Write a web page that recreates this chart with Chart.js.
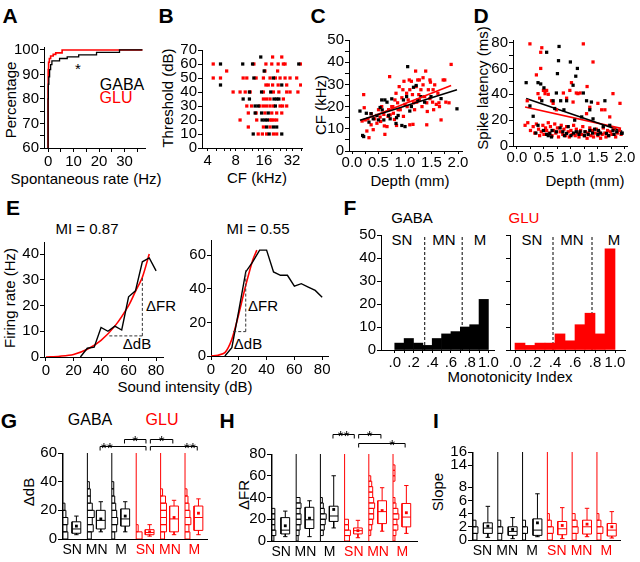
<!DOCTYPE html>
<html><head><meta charset="utf-8">
<script src="https://cdn.jsdelivr.net/npm/chart.js@4.4.1/dist/chart.umd.min.js"></script>
<style>
body{margin:0;background:#fff;width:640px;height:562px;position:relative;overflow:hidden;font-family:"Liberation Sans",Arial,sans-serif;color:#000}
canvas{position:absolute}
.t{position:absolute;white-space:nowrap;font-size:15px;line-height:1;transform:translate(-50%,-50%)}
.v{transform:translate(-50%,-50%) rotate(-90deg)}
.L{position:absolute;font-weight:bold;font-size:21px;line-height:1;transform:translate(-50%,-50%)}
.r{color:#f00}
.b{font-size:16px}
</style></head><body>
<div class="L" style="left:10px;top:15px">A</div>
<div class="L" style="left:166px;top:15px">B</div>
<div class="L" style="left:318px;top:15px">C</div>
<div class="L" style="left:481px;top:15px">D</div>
<div class="L" style="left:13px;top:207px">E</div>
<div class="L" style="left:350px;top:207px">F</div>
<div class="L" style="left:9px;top:420px">G</div>
<div class="L" style="left:227px;top:420px">H</div>
<div class="L" style="left:436px;top:420px">I</div>

<div class="t v" style="left:10px;top:100px">Percentage</div>
<div class="t" style="left:86px;top:178px">Spontaneous rate (Hz)</div>
<div class="t b" style="left:122px;top:85px">GABA</div>
<div class="t b r" style="left:116px;top:98px">GLU</div>
<div class="t" style="left:78px;top:68px">*</div>
<div class="t v" style="left:167px;top:98px">Threshold (dB)</div>
<div class="t" style="left:257px;top:177px">CF (kHz)</div>
<div class="t v" style="left:320px;top:105px">CF (kHz)</div>
<div class="t" style="left:410px;top:180px">Depth (mm)</div>
<div class="t v" style="left:482px;top:88px">Spike latency (ms)</div>
<div class="t" style="left:585px;top:180px">Depth (mm)</div>

<div class="t" style="left:87px;top:228px">MI = 0.87</div>
<div class="t" style="left:258px;top:228px">MI = 0.55</div>
<div class="t v" style="left:9px;top:298px">Firing rate (Hz)</div>
<div class="t" style="left:185px;top:386px">Sound intensity (dB)</div>
<div class="t" style="left:161px;top:305px">ΔFR</div>
<div class="t" style="left:137px;top:343px">ΔdB</div>
<div class="t" style="left:263px;top:305px">ΔFR</div>
<div class="t" style="left:248px;top:343px">ΔdB</div>

<div class="t" style="left:412px;top:217px">GABA</div>
<div class="t r" style="left:524px;top:217px">GLU</div>
<div class="t" style="left:402px;top:239px">SN</div>
<div class="t" style="left:444px;top:239px">MN</div>
<div class="t" style="left:480px;top:239px">M</div>
<div class="t" style="left:532px;top:239px">SN</div>
<div class="t" style="left:572px;top:239px">MN</div>
<div class="t" style="left:614px;top:239px">M</div>
<div class="t" style="left:510px;top:376px">Monotonicity Index</div>

<div class="t b" style="left:90px;top:420px">GABA</div>
<div class="t b r" style="left:162px;top:420px">GLU</div>
<div class="t v" style="left:28px;top:492px">ΔdB</div>
<div class="t v" style="left:243px;top:495px">ΔFR</div>
<div class="t v" style="left:437px;top:492px">Slope</div>

<script>
// ---- A: cumulative spontaneous rate
const rateGABA = [0, 0.1, 0.3, 0.6, 1, 1.5, 4.5, 7.5, 12, 19, 28, 33, 37];
const pctGABA  = [60, 80, 86, 89, 92, 94, 95.5, 96.5, 97.2, 98, 99, 100, 100];
const rateGLU  = [0, 0.05, 0.2, 0.5, 1, 2, 3, 5.5, 19, 37];
const pctGLU   = [60, 85, 92, 95, 96.5, 97.5, 98.2, 98.8, 100, 100];

// ---- B: threshold vs CF  [CF kHz, threshold dB]
const thrGABA = [[14.8,65],[5.5,60],[9.5,60],[12.1,60],[37.7,60],[16.1,55],[12.5,50],[20.2,50],[5.5,45],[24.8,45],
  [11.2,40],[15.1,40],[18.9,40],[9.6,35],[11.2,35],[20.5,35],[21.9,35],[23.1,35],[12.9,30],[13.9,30],[21.2,30],
  [12.9,25],[15.1,25],[17.8,25],[15.3,20],[16.4,20],[17.4,20],[17.1,15],[20.2,15],[21.9,15],[12.3,10],[18.2,10],[24.8,10]];
const thrGLU = [[19.8,65],[24.8,65],[4.6,60],[12.5,60],[16.8,60],[19.4,60],[22.7,60],[25.8,60],[26.9,60],[39.5,60],
  [6.4,55],[16.4,55],[22.4,55],[4.6,50],[5.5,50],[9.6,50],[10.5,50],[13.2,50],[15.8,50],[18.6,50],[21.2,50],[23.8,50],
  [26.9,50],[30.4,50],[35.8,50],[16.8,45],[17.8,45],[19.8,45],[22.7,45],[28,45],[39.5,45],[7.5,40],[8.9,40],[10.1,40],
  [11.4,40],[15.8,40],[20.2,40],[23.1,40],[28,40],[30.4,40],[36.9,40],[15.8,35],[17.1,35],[18.6,35],[25.8,35],
  [10.5,30],[11.8,30],[14.5,30],[15.8,30],[17.1,30],[18.6,30],[20.2,30],[23.8,30],[25.3,30],[28,30],
  [10.9,25],[13.2,25],[16.4,25],[19.4,25],[21.9,25],[24.8,25],[8.9,20],[13.4,20],[18.6,20],[19.4,20],[20.5,20],[21.9,20],
  [10.9,15],[15.8,15],[18.6,15],[13.9,10],[15.4,10],[17.1,10],[20.2,10],[21.9,10]];

// ---- C: CF vs depth  [depth mm, CF kHz]
const cfGABA = [[0.15,18],[0.2,7],[0.22,6.5],[0.27,17],[0.32,13],[0.36,16.8],[0.4,14.5],[0.47,16],[0.5,14],[0.53,19.6],
  [0.56,23],[0.57,18.5],[0.6,14],[0.62,23],[0.66,22],[0.69,16],[0.72,14.5],[0.75,23.5],[0.83,12.4],[0.84,15],[0.87,16],
  [0.94,11.5],[0.97,23],[1.0,11],[1.03,24.5],[1.05,38],[1.09,18],[1.12,20],[1.16,28.7],[1.21,29.5],[1.24,23],[1.3,24.5],
  [1.37,22],[1.49,24.5],[1.68,23.6],[1.98,19]];
const cfGLU = [[0.22,25.4],[0.23,19.5],[0.19,13.5],[0.25,14],[0.28,9],[0.32,6],[0.36,11.8],[0.4,9.6],[0.47,12.5],[0.5,18.6],
  [0.53,15.3],[0.56,20],[0.6,16.5],[0.62,7.5],[0.66,11],[0.69,18.6],[0.71,33.5],[0.75,20],[0.78,17],[0.81,23],[0.83,26],
  [0.86,21.7],[0.89,29],[0.91,18.6],[0.94,24],[0.96,27.6],[0.98,31.4],[1.0,21],[1.03,26],[1.06,23],[1.09,27.6],[1.12,31.4],
  [1.14,25.4],[1.15,12],[1.16,21.7],[1.2,36],[1.21,29],[1.24,32],[1.26,25.4],[1.27,23],[1.3,27.6],[1.32,20],[1.34,29.8],
  [1.37,24.5],[1.39,36],[1.41,21.7],[1.44,27.6],[1.47,23.6],[1.48,31],[1.52,22],[1.53,27.6],[1.56,29.8],[1.59,21],[1.62,26],
  [1.64,21.7],[1.68,14],[1.72,32],[1.75,32],[1.77,22],[1.83,21.7],[1.87,39],[1.41,11.8],[1.09,11.8],[1.27,32],[0.97,15.6],
  [0.43,14.5],[0.36,16.8],[0.3,14.5],[0.72,16.3],[0.77,20],[0.87,18.6],[1.04,20],[1.08,32],[1.18,18.6],[1.22,22],
  [1.42,17.8],[1.54,18.6],[1.65,20],[1.47,32],[1.34,33],[0.54,13.3],[0.61,11.3],[0.68,15.6],[0.8,14.2],[0.84,11.5]];

// ---- D: spike latency vs depth  [depth mm, latency ms]
const latGABA = [[0.17,49],[0.24,31],[0.3,23],[0.39,49],[0.44,48],[0.46,35],[0.5,45],[0.55,72.5],[0.61,9.7],[0.64,7],
  [0.67,35],[0.7,29],[0.73,41],[0.75,56],[0.77,66],[0.78,77],[0.81,35],[0.85,11],[0.87,28],[0.92,35],[0.95,15],[0.99,65],
  [1.04,47],[1.07,20],[1.09,54],[1.12,60],[1.17,11],[1.2,22.5],[1.23,41],[1.26,11],[1.29,35],[1.35,28],[1.38,34],[1.41,21],
  [1.44,13],[1.51,12],[1.6,15],[1.63,35],[1.66,9.7],[1.72,16],[1.78,12],[1.94,9.7],[0.39,16],[0.49,12],[0.58,8],[0.73,11],
  [0.92,9.7],[1.1,11],[0.35,10],[0.8,14],[1.0,8],[1.32,9],[1.15,9],[1.25,8],[1.4,10],[1.5,9],[1.7,8],[1.85,11],[1.95,10],
  [0.65,12],[0.55,9],[1.05,10],[1.35,12],[1.55,10],[1.8,9],[0.88,8]];
const latGLU = [[0.24,79],[0.44,60],[0.46,76],[0.44,72.5],[0.36,55],[0.39,40.5],[0.42,37],[0.49,43],[0.52,40.5],[0.55,43],
  [0.58,40],[0.64,35],[0.67,33],[0.73,28],[0.86,41],[0.92,37],[0.98,43],[1.01,49],[1.04,34],[1.1,41],[1.13,40.5],[1.17,41],
  [1.23,79],[1.3,46],[1.29,25],[1.35,30],[1.41,65],[1.5,33],[1.57,28],[1.63,28],[1.72,22.5],[1.78,40.5],[1.91,33],[0.15,16],
  [0.19,35],[0.2,18],[0.25,12],[0.3,15],[0.33,10],[0.36,17],[0.4,13],[0.42,8],[0.45,11],[0.48,16],[0.5,9],[0.53,14],[0.55,12],
  [0.58,18],[0.6,10],[0.62,15],[0.65,8],[0.68,12],[0.7,17],[0.72,10],[0.75,14],[0.77,7],[0.8,11],[0.82,16],[0.85,9],[0.87,13],
  [0.9,8],[0.92,15],[0.95,11],[0.97,7],[1.0,12],[1.02,9],[1.05,16],[1.08,8],[1.1,13],[1.12,10],[1.15,7],[1.18,12],[1.2,9],
  [1.22,15],[1.25,8],[1.27,11],[1.3,6],[1.32,10],[1.35,14],[1.37,8],[1.4,12],[1.42,7],[1.45,10],[1.47,13],[1.5,8],[1.52,11],
  [1.55,6],[1.58,9],[1.6,14],[1.63,10],[1.65,7],[1.68,12],[1.7,8],[1.73,11],[1.76,9],[1.8,13],[1.83,7],[1.86,10],[1.9,12],[1.93,9]];

// ---- E: rate-level functions
const e1Int = [25, 30, 35, 40, 45, 50, 55, 60, 65, 70, 75, 80];
const e1Rate = [0, 3.4, 3.8, 11.5, 10, 12, 10.5, 23.4, 25.7, 37, 38.5, 33.5];
const e1FitInt = [0, 10, 20, 30, 40, 50, 60, 65, 70, 75];
const e1FitRate = [0, 0.3, 1, 3, 6.5, 12, 20, 25.5, 31, 40];
const e1dB = [46, 70], e1FR = [8.2, 30.7];
const e2Int = [10, 15, 20, 25, 30, 35, 40, 45, 50, 55, 60, 65, 70, 75, 80];
const e2Rate = [0, 5, 27, 50, 56, 63, 63, 50, 48, 48, 41.5, 43, 41, 39, 35];
const e2FitInt = [0, 5, 10, 15, 20, 25, 30, 33];
const e2FitRate = [0, 0.5, 2, 10, 25, 42, 57, 63];
const e2dB = [16, 25], e2FR = [14.5, 51];

// ---- F: monotonicity index histograms
const miBins = [0.05, 0.15, 0.25, 0.35, 0.45, 0.55, 0.65, 0.75, 0.85, 0.95];
const miGABA = [3, 5, 3, 2, 5, 7, 8, 10, 11, 22];
const miGLU = [3, 2, 3, 3, 7, 4, 11, 16, 7, 44];
const miCutGABA = [0.32, 0.72];
const miCutGLU = [0.38, 0.77];

// ---- G/H/I: groups, box stats [min, q1, median, q3, max], means, histogram counts
const groups = ['SN', 'MN', 'M', 'SN', 'MN', 'M'];
const dBBox = [[3,4,7,12,16],[5,7,13,20,26],[5,9,14,21,26],[2,3,4.5,6.5,10],[3,5,14,23,27],[3,6,15,23,28]];
const dBMean = [9, 14, 16, 5, 15, 18];
const dBHist = [[5,4,5,3,2,1,1,1,1,1,1,1],[4,6,5,7,5,3,3,2,1,1,1,1],[3,5,6,5,4,3,2,2,1,1,1,0],
  [6,2,1,1,1,1,1,1,1,1,1,0],[4,6,6,6,6,5,2,1,1,1,1,1],[5,4,6,5,4,3,2,1,1,1,1,1]];
const dBSig = [[1,3,65,'**',1.8],[2,3,70,'*'],[3,4,70,'*'],[3,5,65,'**',5.2]];
const frBox = [[4,6.5,10,21.5,27.5],[4,11.5,19.5,31,37],[12,18,23,32,60],[3,6.5,9.5,12,19],[9,16,27,37,49],[7,13,22,34.5,51]];
const frMean = [14, 21, 29, 9.5, 28, 26];
const frHist = [[2,4,3,3,3,3,1,1,1,1,1,1,1,1,1,1],[2,3,4,5,5,4,5,4,1,1,1,1,1,1,1,1],[1,3,4,5,6,4,3,2,1,1,1,1,1,1,1,1],
  [5,6,4,4,1,1,1,1,1,1,1,1,1,1,1,1],[1,2,3,4,5,5,6,5,4,4,3,2,1,1,1,1],[2,3,5,4,6,5,3,2,1,1,1,2,2,2,1,1]];
const frSig = [[2,3,98,'**'],[3,4,98,'*'],[3,5,90,'*',4.96]];
const slBox = [[0.4,1.0,1.8,2.6,5.1],[0.2,0.7,1.3,2.0,3.4],[0.5,0.7,1.5,3.2,7],[0.2,0.8,1.7,2.8,4.9],[0.5,0.9,2.0,3.0,4.8],[0.3,0.6,1.5,2.5,4.3]];
const slMean = [2.1, 1.6, 2.6, 2.2, 2.4, 2.0];
const slHist = [[4,5,3,1,1,1,1,1],[4,5,3,1,1,1,1,1],[3,5,3,1,1,1,1,1],[5,6,4,2,1,1,1,1],[4,6,5,3,1,1,1,1],[4,6,4,2,1,1,1,1]];

const RED = '#ff0000', BLK = '#000000';
Chart.defaults.font.family = '"Liberation Sans", Arial, sans-serif';
Chart.defaults.font.size = 15;
Chart.defaults.color = '#000';

function axis(o) {
  const a = {type: o.type || 'linear', min: o.min, max: o.max, offset: false,
    grid: {drawOnChartArea: false, color: '#000', tickColor: '#000', tickLength: o.tl ?? 4, drawTicks: o.tl !== 0, offset: false},
    border: {color: '#000', width: 1},
    ticks: {color: o.color || '#000', padding: o.pad ?? 1, maxRotation: 0, autoSkip: false, font: {size: o.fs || 15}}};
  if (o.vals) {
    a.afterBuildTicks = s => { s.ticks = o.vals.map(v => ({value: v})); };
    a.ticks.callback = (v, i) => o.labels ? o.labels[i] : String(v);
  }
  return a;
}

function mk(box, area, cfg) {
  const c = document.createElement('canvas');
  c.width = box[2] - box[0]; c.height = box[3] - box[1];
  c.style.left = box[0] + 'px'; c.style.top = box[1] + 'px';
  c.style.width = c.width + 'px'; c.style.height = c.height + 'px';
  document.body.appendChild(c);
  const op = cfg.options;
  op.responsive = false; op.animation = false;
  op.layout = {autoPadding: false, padding: {left: 0, bottom: 0, top: area[1] - box[1], right: box[2] - area[2]}};
  op.plugins = Object.assign({legend: {display: false}, tooltip: {enabled: false}}, op.plugins || {});
  op.scales.x.afterFit = s => { s.height = box[3] - area[3]; };
  op.scales.y.afterFit = s => { s.width = area[0] - box[0]; };
  return new Chart(c, cfg);
}

const xy = (xs, ys) => xs.map((x, i) => ({x, y: ys[i]}));
const pairs = p => p.map(([x, y]) => ({x, y}));
const dots = (p, col) => ({type: 'scatter', data: pairs(p), pointStyle: 'rect', pointRadius: 2.3, borderWidth: 0, backgroundColor: col});
const lineDs = (d, col, w, extra) => Object.assign({type: 'line', data: d, borderColor: col, borderWidth: w, pointRadius: 0, tension: 0}, extra || {});

function fit(p) {
  const n = p.length; let sx = 0, sy = 0, sxx = 0, sxy = 0;
  p.forEach(([x, y]) => { sx += x; sy += y; sxx += x * x; sxy += x * y; });
  const b = (n * sxy - sx * sy) / (n * sxx - sx * sx), a = (sy - b * sx) / n;
  const xs = p.map(q => q[0]), lo = Math.min(...xs), hi = Math.max(...xs);
  return [{x: lo, y: a + b * lo}, {x: hi, y: a + b * hi}];
}

// A
mk([0, 30, 160, 170], [44, 47, 145, 148], {type: 'line', data: {datasets: [
  lineDs(xy(rateGABA, pctGABA), BLK, 1.3, {stepped: 'after'}),
  lineDs(xy(rateGLU, pctGLU), RED, 1.6, {stepped: 'after'})]},
  options: {scales: {
    x: axis({min: -1.6, max: 38, vals: [0, 5, 10, 15, 20, 25, 30, 35], labels: ['0', '', '10', '', '20', '', '30', '']}),
    y: axis({min: 60, max: 101.2, vals: [60, 65, 70, 75, 80, 85, 90, 95, 100], labels: ['60', '', '70', '', '80', '', '90', '', '100']})}}});

// B
mk([160, 30, 310, 170], [202, 50, 302, 148], {type: 'scatter', data: {datasets: [dots(thrGABA, BLK), dots(thrGLU, RED)]},
  options: {scales: {
    x: axis({type: 'logarithmic', min: 3.49, max: 40.8, tl: 3, vals: [4, 5, 6, 7, 8, 10, 12, 14, 16, 20, 24, 28, 32, 40],
      labels: ['4', '', '', '', '8', '', '', '', '16', '', '', '', '32', '']}),
    y: axis({min: 0, max: 70, vals: [0, 10, 20, 30, 40, 50, 60, 70]})}}});

// C
mk([315, 30, 470, 175], [349, 40, 462, 151], {type: 'scatter', data: {datasets: [
  lineDs(fit(cfGABA), BLK, 1.6), lineDs(fit(cfGLU), RED, 1.6), dots(cfGABA, BLK), dots(cfGLU, RED)]},
  options: {scales: {
    x: axis({min: -0.057, max: 2.075, tl: 3, pad: 0, vals: [0, 0.25, 0.5, 0.75, 1, 1.25, 1.5, 1.75, 2], labels: ['0.0', '', '0.5', '', '1.0', '', '1.5', '', '2.0']}),
    y: axis({min: 0, max: 50, vals: [0, 5, 10, 15, 20, 25, 30, 35, 40, 45, 50], labels: ['0', '', '10', '', '20', '', '30', '', '40', '', '50']})}}});

// D
mk([480, 30, 640, 175], [513, 39.4, 627, 146], {type: 'scatter', data: {datasets: [
  dots(latGABA, BLK), dots(latGLU, RED), lineDs(fit(latGABA), BLK, 1.6), lineDs(fit(latGLU), RED, 1.6)]},
  options: {scales: {
    x: axis({min: -0.074, max: 2.04, tl: 3, pad: 0, vals: [0, 0.25, 0.5, 0.75, 1, 1.25, 1.5, 1.75, 2], labels: ['0.0', '', '0.5', '', '1.0', '', '1.5', '', '2.0']}),
    y: axis({min: 0, max: 82, vals: [0, 10, 20, 30, 40, 50, 60, 70, 80], labels: ['0', '', '20', '', '40', '', '60', '', '80']})}}});

// E
const dash = {borderDash: [3, 2]};
mk([0, 220, 170, 380], [44, 242, 163, 357], {type: 'line', data: {datasets: [
  lineDs(xy(e1dB, [e1FR[0], e1FR[0]]), '#333', 1, dash), lineDs(xy([e1dB[1], e1dB[1]], e1FR), '#333', 1, dash),
  lineDs(xy(e1Int, e1Rate), BLK, 1.4), lineDs(xy(e1FitInt, e1FitRate), RED, 1.6, {tension: 0.3})]},
  options: {scales: {
    x: axis({min: -1.45, max: 85, vals: [0, 20, 40, 60, 80]}),
    y: axis({min: 0, max: 44.7, vals: [0, 10, 20, 30, 40]})}}});
mk([170, 220, 335, 380], [211, 240, 328, 356], {type: 'line', data: {datasets: [
  lineDs(xy(e2dB, [e2FR[0], e2FR[0]]), '#333', 1, dash), lineDs(xy([e2dB[1], e2dB[1]], e2FR), '#333', 1, dash),
  lineDs(xy(e2Int, e2Rate), BLK, 1.4), lineDs(xy(e2FitInt, e2FitRate), RED, 1.6, {tension: 0.3})]},
  options: {scales: {
    x: axis({min: 0, max: 84.2, vals: [0, 20, 40, 60, 80]}),
    y: axis({min: 0, max: 69, vals: [0, 20, 40, 60]})}}});

// F
function miChart(box, area, xmin, xmax, counts, cuts, col, labels) {
  const ds = [{type: 'bar', data: miBins.map((x, i) => ({x, y: counts[i]})), backgroundColor: col, borderWidth: 0, barPercentage: 1, categoryPercentage: 1}];
  cuts.forEach(c => ds.push(lineDs([{x: c, y: 0}, {x: c, y: 50}], BLK, 1, dash)));
  mk(box, area, {type: 'bar', data: {datasets: ds}, options: {scales: {
    x: axis({min: xmin, max: xmax, tl: 3, vals: [0, 0.1, 0.2, 0.3, 0.4, 0.5, 0.6, 0.7, 0.8, 0.9, 1.0], labels: ['.0', '', '.2', '', '.4', '', '.6', '', '.8', '', '1.0']}),
    y: axis({min: 0, max: 50, vals: [0, 10, 20, 30, 40, 50], labels: labels})}}});
}
miChart([345, 225, 500, 372], [381, 234, 497, 350], -0.147, 1.07, miGABA, miCutGABA, BLK, null);
miChart([500, 225, 640, 372], [510, 234, 625, 350], -0.05, 1.1, miGLU, miCutGLU, RED, ['', '', '', '', '', '']);

// G/H/I
const sigPlugin = {id: 'sig', afterDraw(ch, args, o) {
  if (!o.items) return;
  const c = ch.ctx, xs = ch.scales.x, ys = ch.scales.y;
  c.save(); c.strokeStyle = '#000'; c.fillStyle = '#000'; c.lineWidth = 1;
  c.font = '15px "Liberation Sans", Arial'; c.textAlign = 'center';
  o.items.forEach(([a, b, lvl, txt, tx]) => {
    const x1 = xs.getPixelForValue(a + o.off - 0.03 + (a === 3 ? 0.06 : 0));
    const x2 = xs.getPixelForValue(b + o.off - 0.05 - (b === 3 ? 0.1 : 0));
    const py = Math.round(ys.getPixelForValue(lvl)) + 0.5;
    c.beginPath(); c.moveTo(x1, py + 4); c.lineTo(x1, py); c.lineTo(x2, py); c.lineTo(x2, py + 4); c.stroke();
    c.fillText(txt, tx !== undefined ? xs.getPixelForValue(tx) : (x1 + x2) / 2, py + 6);
  });
  c.restore();
}};

function boxChart(box, area, o) {
  const tf = o.tf || (v => v);
  const L = [[], []], D = [[], []];
  const push = (arr, pts) => { pts.forEach(p => arr.push({x: p[0], y: tf(p[1])})); arr.push({x: pts[0][0], y: null}); };
  o.stats.forEach((s, g) => {
    const k = g < 3 ? 0 : 1, a = L[k], c = g + o.off, hw = 0.18;
    push(a, [[g, 0], [g, o.top]]);
    o.hist[g].forEach((n, i) => {
      if (n > 1) { const lo = i * o.binW, hi = lo + o.binW, w = g + n * 0.04; push(a, [[g, lo], [w, lo], [w, hi], [g, hi]]); }
    });
    const [mn, q1, md, q3, mx] = s;
    push(a, [[c - hw, q1], [c + hw, q1], [c + hw, q3], [c - hw, q3], [c - hw, q1]]);
    push(a, [[c - hw, md], [c + hw, md]]);
    push(a, [[c, q3], [c, mx]]); push(a, [[c, q1], [c, mn]]);
    push(a, [[c - hw / 2, mx], [c + hw / 2, mx]]); push(a, [[c - hw / 2, mn], [c + hw / 2, mn]]);
    D[k].push({x: c, y: tf(o.means[g])});
  });
  const ds = [lineDs(L[0], BLK, 1, {spanGaps: false}), lineDs(L[1], RED, 1, {spanGaps: false}),
    {type: 'line', data: D[0], showLine: false, pointStyle: 'rect', pointRadius: 2, borderWidth: 0, backgroundColor: BLK},
    {type: 'line', data: D[1], showLine: false, pointStyle: 'rect', pointRadius: 2, borderWidth: 0, backgroundColor: RED}];
  mk(box, area, {type: 'line', data: {datasets: ds}, plugins: [sigPlugin], options: {
    plugins: {sig: {items: o.sig, off: o.off}},
    scales: {
      x: axis({min: o.xmin, max: o.xmax, tl: 0, pad: 3, fs: 14, vals: groups.map((_, g) => g + 0.38), labels: groups,
        color: ctx => ctx.index < 3 ? BLK : RED}),
      y: axis({min: 0, max: o.ymax, vals: o.yvals, labels: o.ylabels})}}});
}

boxChart([15, 400, 215, 562], [62, 453, 207, 539], {stats: dBBox, means: dBMean, hist: dBHist, binW: 5, top: 60, off: 0.55,
  xmin: -0.04, xmax: 5.9, ymax: 60, yvals: [0, 20, 40, 60], sig: dBSig});
boxChart([250, 400, 425, 562], [271, 454, 417, 541], {stats: frBox, means: frMean, hist: frHist, binW: 5, top: 80, off: 0.55,
  xmin: -0.04, xmax: 5.99, ymax: 80, yvals: [0, 20, 40, 60, 80], sig: frSig});
const brk = v => v > 10 ? v - 2.67 : v;
boxChart([445, 400, 640, 562], [472, 452, 620, 540], {stats: slBox, means: slMean, hist: slHist, binW: 1, top: 16, off: 0.6,
  xmin: -0.04, xmax: 5.93, ymax: 13.33, tf: brk, yvals: [0, 2, 4, 6, 8, 11.33, 13.33], ylabels: ['0', '2', '4', '6', '8', '14', '16'], sig: []});
</script>
</body></html>
